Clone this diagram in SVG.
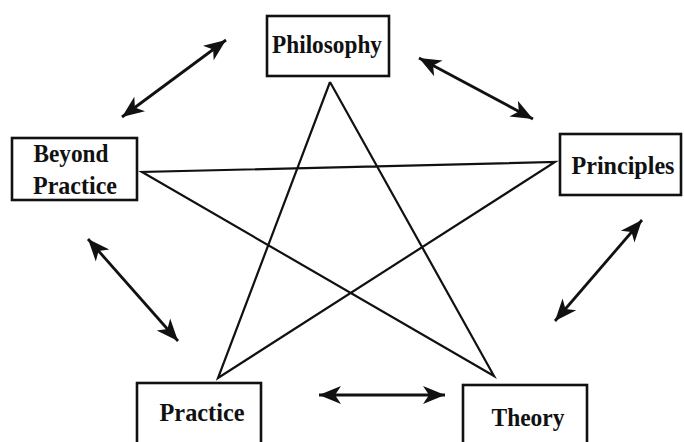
<svg xmlns="http://www.w3.org/2000/svg" width="684" height="442" viewBox="0 0 684 442">
<style>
.box{fill:#fff;stroke:#111;stroke-width:2.6}
.lbl{font-family:"Liberation Serif","Times New Roman",serif;font-weight:bold;font-size:26px;fill:#111;text-anchor:middle}
.star{stroke:#111;stroke-width:2.2;fill:none}
.arr{stroke:#111;stroke-width:2.8;fill:none;marker-start:url(#ah);marker-end:url(#ah)}
</style>
<defs>
<marker id="ah" markerUnits="userSpaceOnUse" markerWidth="23" markerHeight="20" refX="22" refY="9" orient="auto-start-reverse" viewBox="0 0 23 18">
<path d="M0,0 L22,9 L0,18 L6,9 z" fill="#111"/>
</marker>
</defs>
<rect width="684" height="442" fill="#fff"/>
<g id="connectors">
<polyline class="star" points="330,82 218,378 555,162 142,172 494,376 330,82"/>
<line class="arr" x1="122" y1="117" x2="226" y2="40"/>
<line class="arr" x1="419" y1="58" x2="533" y2="119"/>
<line class="arr" x1="642" y1="220" x2="555" y2="321"/>
<line class="arr" x1="88" y1="239" x2="178" y2="341"/>
<line class="arr" x1="319" y1="395" x2="445" y2="395"/>
</g>
<g id="philosophy">
<rect class="box" x="267" y="16" width="122" height="60"/>
<text class="lbl" x="327" y="53" textLength="110" lengthAdjust="spacingAndGlyphs">Philosophy</text>
</g>
<g id="principles">
<rect class="box" x="560" y="134" width="121" height="61"/>
<text class="lbl" x="623" y="174" textLength="103" lengthAdjust="spacingAndGlyphs">Principles</text>
</g>
<g id="beyond-practice">
<rect class="box" x="12" y="138" width="125" height="62"/>
<text class="lbl" x="71" y="162" textLength="75" lengthAdjust="spacingAndGlyphs">Beyond</text>
<text class="lbl" x="75" y="194" textLength="84" lengthAdjust="spacingAndGlyphs">Practice</text>
</g>
<g id="practice">
<rect class="box" x="137" y="383" width="124" height="62"/>
<text class="lbl" x="202" y="421" textLength="85" lengthAdjust="spacingAndGlyphs">Practice</text>
</g>
<g id="theory">
<rect class="box" x="463" y="385" width="124" height="62"/>
<text class="lbl" x="528" y="426" textLength="73" lengthAdjust="spacingAndGlyphs">Theory</text>
</g>
</svg>
